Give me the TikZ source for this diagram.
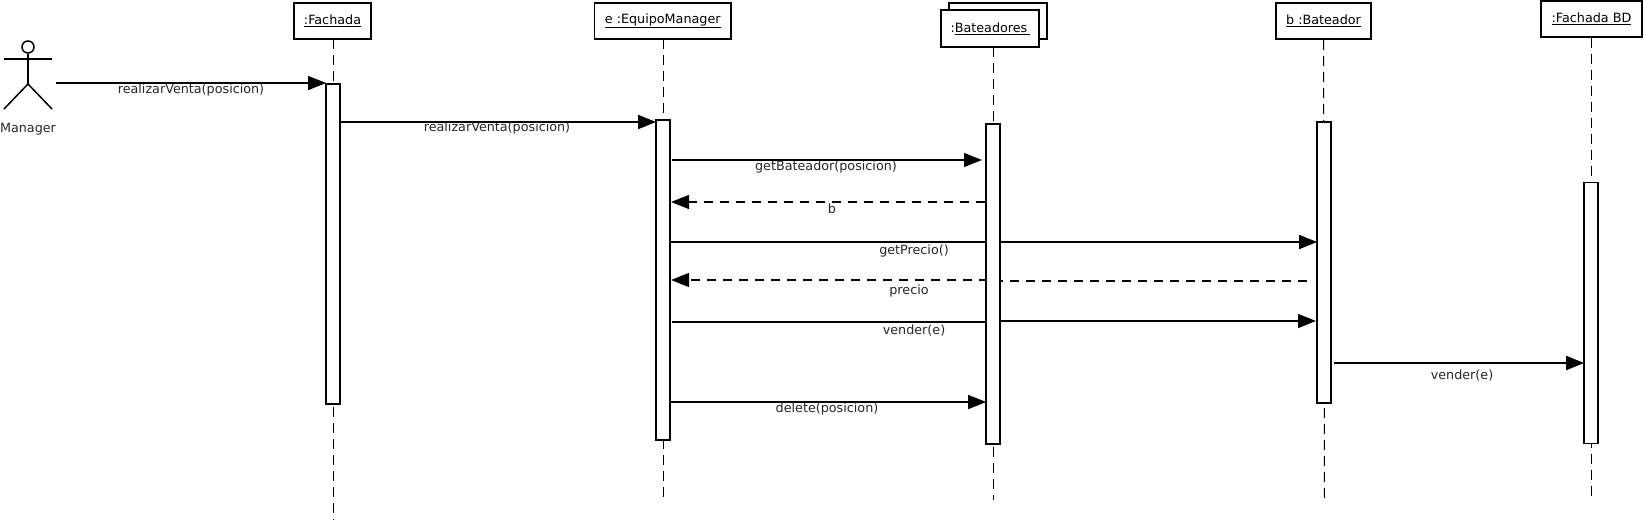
\documentclass[tikz,border=0pt]{standalone}
\usepackage{fontspec}
\setmainfont{DejaVu Sans}
\usepackage{tikz}
\usetikzlibrary{arrows.meta, backgrounds}

\begin{document}
\begin{tikzpicture}[
        x=1pt, y=-1pt,
        >={Triangle[length=18pt,width=14pt]}, % Sets arrow style
        object/.style={draw, line width=1.7pt, rectangle, fill=white, minimum height=36pt, inner xsep=0pt, font=\fontsize{12.75pt}{14pt}\selectfont},
        bar/.style={draw, line width=1.7pt, rectangle, fill=white, minimum width=14pt, inner sep=0pt},
        lifeline/.style={dash pattern=on 10pt off 6pt, line width=1pt},
        message/.style={->, line width=1.4pt},
        reply/.style={->, line width=1.4pt, dash pattern=on 9pt off 7pt},
        label/.style={font=\fontsize{12.75pt}{14pt}\selectfont, inner sep=0pt, text=black!85},
        limb/.style={line width=1.5pt}
    ]

    \useasboundingbox (0,0) rectangle (1644,522);

    % --- Lifeline ends ---
    \coordinate (fachadaEnd) at (333.5,520);
    \coordinate (equipoEnd) at (663.5,497);
    \coordinate (bateadoresEnd) at (993.5,500);
    \coordinate (bateadorEnd) at (1324.5,503);
    \coordinate (bdEnd) at (1591.5,499);
    \coordinate (bateadoresTop) at (993.5,47);

    % --- Objects ---
    \node[object, minimum width=98pt] (bateadoresBack) at (998,21) {};
    \node[object, minimum width=77pt] (fachada) at (332.5,21) {\underline{:Fachada}};
    \node[object, minimum width=136.5pt] (equipo) at (662.75,21) {\underline{e :EquipoManager}};
    \node[object, minimum width=98pt, minimum height=37pt] (bateadores) at (990,28.5) {:\underline{Bateadores\,}};
    \node[object, minimum width=95pt] (bateador) at (1323.5,21) {\underline{b :Bateador}};
    \node[object, minimum width=101pt] (bd) at (1591.5,19) {\underline{:Fachada BD}};

    % --- Lifelines ---
    \draw[lifeline] (333.5,39) -- (fachadaEnd);
    \draw[lifeline] (663.5,39) -- (equipoEnd);
    \draw[lifeline] (bateadoresTop) -- (bateadoresEnd);
    \draw[lifeline] (bateador.south) -- (bateadorEnd);
    \draw[lifeline] (bd.south) -- (bdEnd);

    % --- Activation bars ---
    \node[bar, minimum height=320pt] (fachadaBar) at (333,244) {};
    \node[bar, minimum height=320pt] (equipoBar) at (663,280) {};
    \node[bar, minimum height=320pt] (bateadoresBar) at (993,284) {};
    \node[bar, minimum height=281pt] (bateadorBar) at (1324,262.5) {};
    \node[bar, minimum height=261pt] (bdBar) at (1591,313) {};

    % --- Actor ---
    \node[draw, circle, limb, minimum size=12pt, inner sep=0pt] (head) at (28,47) {};
    \coordinate (armL) at (4,59);
    \coordinate (armR) at (52,59);
    \coordinate (hip) at (28,84);
    \coordinate (footL) at (4,109);
    \coordinate (footR) at (52,109);
    \coordinate (managerOut) at (56,83);
    \draw[limb] (armL) -- (armR);
    \draw[limb] (head) -- (hip);
    \draw[limb] (footL) -- (hip) -- (footR);
    \node[label] (manager) at (28,129) {Manager};

    % --- Messages ---
    \draw[message] (managerOut) -- ([xshift=1pt]fachadaBar.west |- managerOut);
    \node[label] (m1) at (191,89.5) {realizarVenta(posicion)};

    \draw[message] (fachadaBar.east |- 0,122) -- ([xshift=1pt]equipoBar.west |- 0,122);
    \node[label] (m2) at (497,128) {realizarVenta(posicion)};

    \draw[message] (672,160) -- (982,160);
    \node[label] (m3) at (826,166.5) {getBateador(posicion)};

    \draw[reply] (bateadoresBar.west |- 0,202) -- (671,202);
    \node[label] (m4) at (832,208.5) {b};

    % these run behind the Bateadores bar
    \begin{pgfonlayer}{background}
    \draw[message] (equipoBar.east |- 0,242) -- ([xshift=1pt]bateadorBar.west |- 0,242);
    \draw[reply] (1307,281) -- (bateadoresBar |- 0,281) -- (bateadoresBar |- 0,280) -- (671,280);
    \draw[message] (672,322) -- (bateadoresBar |- 0,322) -- (bateadoresBar |- 0,321) -- (1316,321);
    \end{pgfonlayer}
    \node[label] (m5) at (914,250.5) {getPrecio()};
    \node[label] (m6) at (909,290.5) {precio};
    \node[label] (m7) at (914,330.5) {vender(e)};

    \draw[message] (1334,363) -- ([xshift=1pt]bdBar.west |- 0,363);
    \node[label] (m8) at (1462,375.5) {vender(e)};

    \draw[message] (equipoBar.east |- 0,402) -- ([xshift=1pt]bateadoresBar.west |- 0,402);
    \node[label] (m9) at (827,408.5) {delete(posicion)};

    \end{tikzpicture}
\end{document}
